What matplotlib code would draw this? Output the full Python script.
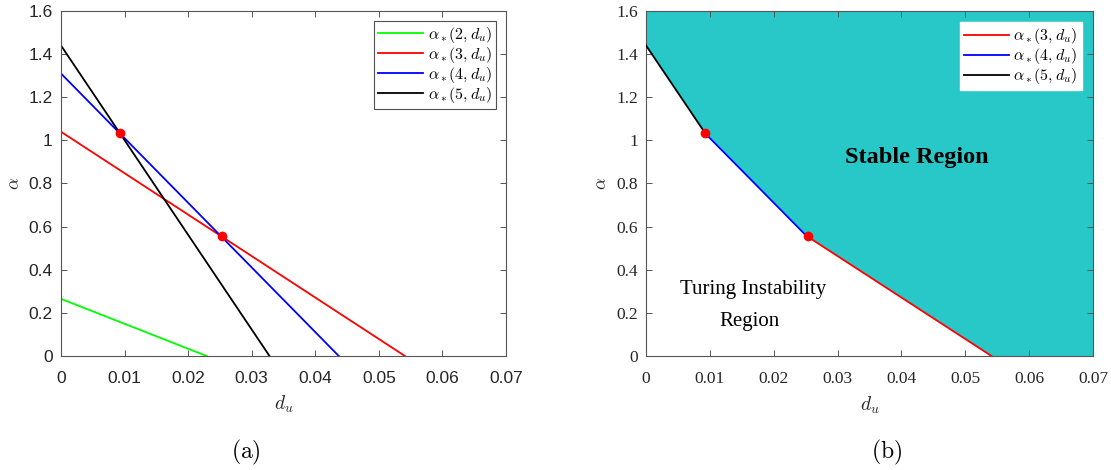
import numpy as np
import matplotlib
matplotlib.use("Agg")
import matplotlib.pyplot as plt

plt.rcParams['mathtext.fontset'] = 'cm'

# alpha_*(k, d_u) lines: value at d_u = 0 and d_u where alpha reaches 0
modes = [2, 3, 4, 5]
alpha_at_zero = [0.265, 1.04, 1.31, 1.44]
du_at_zero = [0.0229, 0.0541, 0.0437, 0.0328]
line_colors = ['#00ff00', '#ff0000', '#0000ff', '#000000']

# intersection points (red dots)
dot_du = [0.0093, 0.0253]
dot_alpha = [1.035, 0.555]

x_ticks = [0, 0.01, 0.02, 0.03, 0.04, 0.05, 0.06, 0.07]
x_tick_labels = ['0', '0.01', '0.02', '0.03', '0.04', '0.05', '0.06', '0.07']
y_ticks = [0, 0.2, 0.4, 0.6, 0.8, 1.0, 1.2, 1.4, 1.6]
y_tick_labels = ['0', '0.2', '0.4', '0.6', '0.8', '1', '1.2', '1.4', '1.6']

fill_color = '#28c8c8'
axis_color = '#555555'
text_color = '#262626'


def line_value(i, x):
    return alpha_at_zero[i] * (1 - np.asarray(x) / du_at_zero[i])


def style_axes(ax, family, size):
    ax.set_xlim(0, 0.07)
    ax.set_ylim(0, 1.6)
    ax.set_xticks(x_ticks)
    ax.set_xticklabels(x_tick_labels)
    ax.set_yticks(y_ticks)
    ax.set_yticklabels(y_tick_labels)
    ax.tick_params(direction='in', top=True, right=True, length=4,
                   width=0.7, colors=axis_color, labelcolor=text_color,
                   labelsize=size, pad=6)
    ax.tick_params(axis='x', pad=11)
    for lab in ax.get_xticklabels() + ax.get_yticklabels():
        lab.set_family(family)
    for sp in ax.spines.values():
        sp.set_color(axis_color)
        sp.set_linewidth(0.8)
    ax.set_xlabel(r'$d_u$', fontsize=14, color=text_color, labelpad=5)
    ax.set_ylabel(r'$\alpha$', fontsize=13, color=text_color, labelpad=4)


def main():
    fig = plt.figure(figsize=(11.11, 4.70), dpi=100)
    ax_a = fig.add_axes([0.0549, 0.2426, 0.4005, 0.734])
    ax_b = fig.add_axes([0.5815, 0.2426, 0.4023, 0.734])

    # (a) all four curves
    for i, k in enumerate(modes):
        xs = [0, du_at_zero[i]]
        ax_a.plot(xs, line_value(i, xs), color=line_colors[i], lw=1.3,
                  label=r'$\alpha_*(%d,d_u)$' % k)
    ax_a.plot(dot_du, dot_alpha, 'o', color='#ff0000', ms=6, zorder=5)
    style_axes(ax_a, 'Liberation Sans', 12.5)
    leg = ax_a.legend(loc='upper right', fontsize=11.5, fancybox=False,
                      edgecolor=text_color, handlelength=2.8,
                      handletextpad=0.3, borderpad=0.25,
                      borderaxespad=0.6, labelspacing=0.0)
    leg.get_frame().set_linewidth(0.8)

    # (b) stability boundary and stable region
    seg_x = {5: [0, dot_du[0]], 4: [dot_du[0], dot_du[1]],
             3: [dot_du[1], du_at_zero[1]]}
    bx = [0, dot_du[0], dot_du[1], du_at_zero[1], 0.07]
    by = [alpha_at_zero[3], dot_alpha[0], dot_alpha[1], 0, 0]
    ax_b.fill_between(bx, by, 1.6, color=fill_color, lw=0, zorder=1)
    for k in [3, 4, 5]:
        i = modes.index(k)
        xs = seg_x[k]
        ax_b.plot(xs, line_value(i, xs), color=line_colors[i], lw=1.3,
                  label=r'$\alpha_*(%d,d_u)$' % k, zorder=3)
    ax_b.plot(dot_du, dot_alpha, 'o', color='#ff0000', ms=6, zorder=5)
    style_axes(ax_b, 'Liberation Serif', 12.5)
    ax_b.legend(loc='upper right', fontsize=11.5, fancybox=False,
                edgecolor='white', framealpha=1, handlelength=2.8,
                handletextpad=0.3, borderpad=0.25,
                borderaxespad=0.7, labelspacing=0.0)

    ax_b.text(0.0424, 0.92, 'Stable Region', family='Liberation Serif',
              fontweight='bold', fontsize=17.5, ha='center', va='center')
    ax_b.text(0.0168, 0.31, 'Turing Instability', family='Liberation Serif',
              fontsize=15, ha='center', va='center')
    ax_b.text(0.0162, 0.158, 'Region', family='Liberation Serif',
              fontsize=15, ha='center', va='center')

    fig.text(246 / 1111, 1 - 452 / 470, r'$\mathrm{(a)}$', fontsize=17,
             ha='center', va='center')
    fig.text(887 / 1111, 1 - 452 / 470, r'$\mathrm{(b)}$', fontsize=17,
             ha='center', va='center')

    fig.savefig('out.png', dpi=100)


if __name__ == '__main__':
    main()
